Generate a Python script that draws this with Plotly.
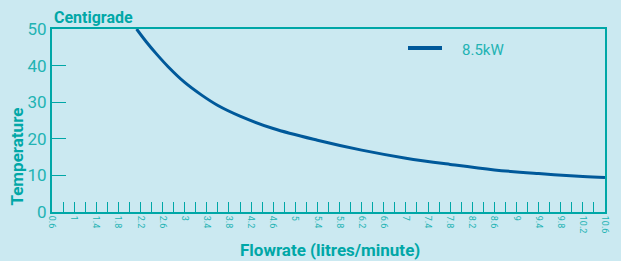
import plotly.graph_objects as go

flow = [2.13, 2.3, 2.5, 2.7, 3.0, 3.3, 3.6, 4.0, 4.6, 5.4, 6.2, 7.0, 7.8, 8.6, 9.4, 10.2, 10.6]
temp_8_5kw = [50.0, 46.6, 43.0, 39.7, 35.4, 32.0, 29.1, 26.2, 22.8, 19.6, 16.9, 14.7, 13.0, 11.5, 10.5, 9.7, 9.4]
series_name = "8.5kW"
x_tick_vals = [round(0.6 + 0.4 * i, 1) for i in range(26)]
x_tick_text = [("%g" % v) for v in x_tick_vals]
y_tick_vals = [0, 10, 20, 30, 40, 50]

BG = "#cbe9f1"
TEAL = "#00a7a7"
TEAL_LIGHT = "#22b3b3"
BLUE = "#00599a"
FONT = "Roboto"

fig = go.Figure()
fig.add_trace(go.Scatter(
    x=flow, y=temp_8_5kw, mode="lines", name=series_name,
    line=dict(color=BLUE, width=3, shape="spline", smoothing=1.0),
    showlegend=False,
))

fig.update_layout(
    width=621, height=261,
    margin=dict(l=52, r=16, t=29, b=49),
    paper_bgcolor=BG, plot_bgcolor=BG,
    font=dict(family=FONT, color=TEAL),
    showlegend=False,
)
fig.update_xaxes(
    range=[0.6, 10.6], showgrid=False, zeroline=False,
    showline=True, linecolor=TEAL, linewidth=2, mirror=True,
    tickmode="array", tickvals=x_tick_vals, ticktext=x_tick_text,
    ticks="inside", ticklen=10, tickcolor=TEAL, tickwidth=1,
    tickangle=90, tickfont=dict(size=9, color=TEAL_LIGHT, family=FONT),
    minor=dict(dtick=0.2, tick0=0.6, ticks="inside", ticklen=10, tickcolor=TEAL, tickwidth=1, showgrid=False),
)
fig.update_yaxes(
    range=[0, 50], showgrid=False, zeroline=False,
    showline=True, linecolor=TEAL, linewidth=2, mirror=True,
    tickmode="array", tickvals=y_tick_vals,
    ticks="inside", ticklen=14, tickcolor=TEAL, tickwidth=1,
    tickfont=dict(size=17, color=TEAL_LIGHT, family=FONT),
)

# legend (drawn manually)
fig.add_shape(type="line", xref="paper", yref="paper",
              x0=(408 - 52) / 553, x1=(442 - 52) / 553, y0=(212 - 48) / 183, y1=(212 - 48) / 183,
              line=dict(color=BLUE, width=4))
fig.add_annotation(text=series_name, xref="paper", yref="paper",
                   x=(460 - 52) / 553, y=(212 - 50) / 183, xanchor="left", yanchor="middle",
                   showarrow=False, font=dict(size=15, color=TEAL_LIGHT, family=FONT))

fig.add_annotation(text="<b>Centigrade</b>", xref="paper", yref="paper",
                   x=0, y=1, xanchor="left", yanchor="bottom", yshift=0,
                   showarrow=False, font=dict(size=16, color=TEAL, family=FONT))
fig.add_annotation(text="<b>Temperature</b>", xref="paper", yref="paper",
                   x=-0.064, y=(212 - 157) / 183, xanchor="center", yanchor="middle", textangle=-90,
                   showarrow=False, font=dict(size=17, color=TEAL, family=FONT))
fig.add_annotation(text="<b>Flowrate (litres/minute)</b>", xref="paper", yref="paper",
                   x=(330 - 52) / 553, y=0, xanchor="center", yanchor="top", yshift=-26,
                   showarrow=False, font=dict(size=17, color=TEAL, family=FONT))

fig.write_html("out.html", config={"displayModeBar": False},
               post_script="document.body.style.margin='0';document.body.style.background='%s';" % BG)
